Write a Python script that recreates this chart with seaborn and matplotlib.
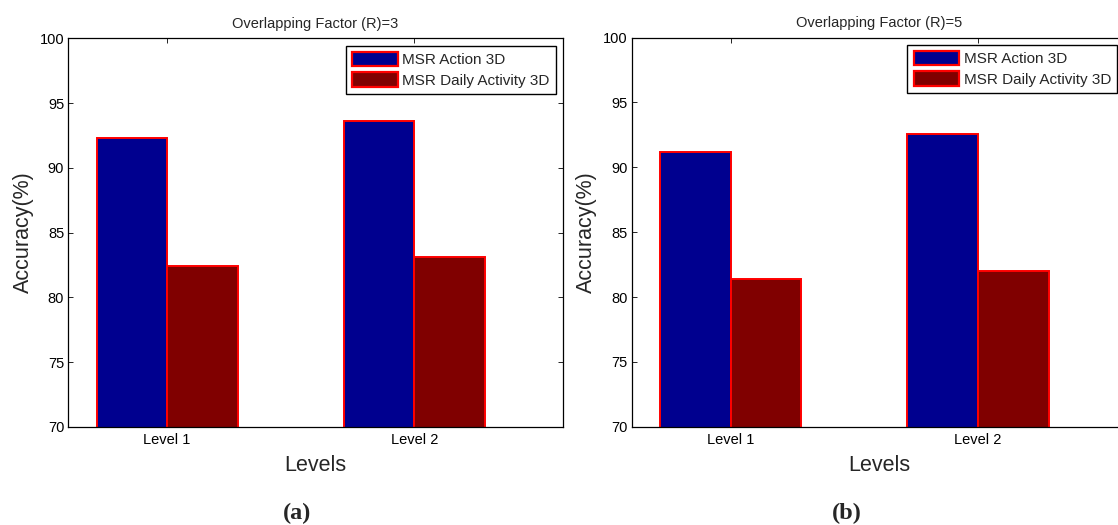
import matplotlib
matplotlib.use("Agg")
from matplotlib import pyplot as plt
import pandas as pd
import seaborn as sns

# hodnoty
levels = ["Level 1", "Level 2"]
series = ["MSR Action 3D", "MSR Daily Activity 3D"]
r3_action = [92.3, 93.6]
r3_daily = [82.4, 83.1]
r5_action = [91.2, 92.6]
r5_daily = [81.4, 82.0]
titles = ["Overlapping Factor (R)=3", "Overlapping Factor (R)=5"]
panel_tags = ["(a)", "(b)"]
yticks = [70, 75, 80, 85, 90, 95, 100]

colors = ["#00008F", "#800000"]


def make_df(action, daily):
    rows = []
    for lv, a, d in zip(levels, action, daily):
        rows.append({"level": lv, "series": series[0], "acc": a})
        rows.append({"level": lv, "series": series[1], "acc": d})
    return pd.DataFrame(rows)


sns.set_theme(style="ticks")
plt.rcParams["font.family"] = ["Liberation Sans", "DejaVu Sans"]
plt.rcParams["xtick.direction"] = "in"
plt.rcParams["ytick.direction"] = "in"

W, H = 1118, 525
fig = plt.figure(figsize=(W / 100, H / 100), dpi=100)

# pozice os v pixelech (left, top, width, height)
boxes = [(68.3, 38.3, 494.4, 388.5), (631.7, 37.5, 494.8, 389.3)]
legend_anchor = [(555.7, 46.0), (1117.0, 45.0)]
tag_pos = [(297, 513), (847, 513)]
data = [make_df(r3_action, r3_daily), make_df(r5_action, r5_daily)]

for i in range(2):
    l, t, w, h = boxes[i]
    ax = fig.add_axes([l / W, 1 - (t + h) / H, w / W, h / H])
    sns.barplot(data=data[i], x="level", y="acc", hue="series",
                palette=colors, width=0.571, edgecolor="#FF0000",
                linewidth=1.4, saturation=1, ax=ax, zorder=2)
    ax.set_xlim(-0.4, 1.6)
    ax.set_ylim(70, 100)
    ax.set_yticks(yticks)
    ax.tick_params(top=True, right=True, length=3.6, width=0.6,
                   labelsize=10.5, colors="black")
    ax.tick_params(axis="x", pad=4.5)
    ax.tick_params(axis="y", pad=3)
    for s in ax.spines.values():
        s.set_visible(True)
        s.set_color("black")
        s.set_linewidth(0.9)
    ax.set_title(titles[i], fontsize=10.5, pad=7.5)
    ax.set_xlabel("Levels", fontsize=15.5, labelpad=5.5)
    ax.set_ylabel("Accuracy(%)", fontsize=15.5, labelpad=4)

    # legenda
    handles, labels = ax.get_legend_handles_labels()
    lx, ly = legend_anchor[i]
    leg = ax.legend(handles, labels, loc="upper right",
                    bbox_to_anchor=(lx / W, 1 - ly / H),
                    bbox_transform=fig.transFigure, borderaxespad=0,
                    fontsize=11, frameon=True, fancybox=False,
                    framealpha=1, edgecolor="black", handlelength=3.0,
                    handleheight=1.05, handletextpad=0.27, labelspacing=0.33,
                    borderpad=0.4)
    leg.get_frame().set_linewidth(1.0)
    for p in leg.get_patches():
        p.set_linewidth(1.6)
        p.set_edgecolor("#FF0000")

    tx, ty = tag_pos[i]
    fig.text(tx / W, 1 - ty / H, panel_tags[i], ha="center", va="center",
             fontsize=17.5, fontweight="bold",
             family=["Liberation Serif", "DejaVu Serif"])

fig.savefig("out.png", dpi=100)
plt.close(fig)
